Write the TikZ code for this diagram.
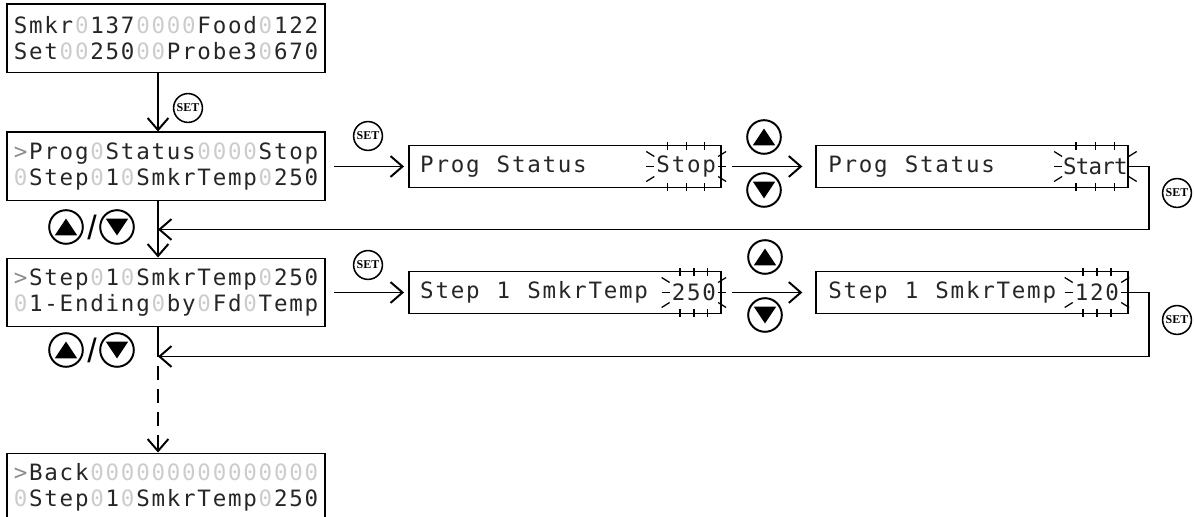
\documentclass[tikz,border=0pt]{standalone}
\usepackage{fontspec}
\usepackage{tikz}
\usetikzlibrary{arrows.meta, positioning, calc}

\newfontfamily\lcdfont{DejaVu Sans Mono}
\newfontfamily\btnfont{Liberation Serif}
\newfontfamily\slashfont{Liberation Sans}

\definecolor{lcdghost}{gray}{0.8}
\definecolor{lcdink}{gray}{0.15}

% one character cell of the display: . = unlit cell, * = blank
\newlength\lcdpitch
\setlength\lcdpitch{0.3825cm}
\makeatletter
\newcommand\lcdtext[1]{\lcd@scan#1\@nil}
\def\lcd@scan#1{\ifx#1\@nil\else\lcd@cell{#1}\expandafter\lcd@scan\fi}
\def\lcd@cell#1{\makebox[\lcdpitch]{\ifx.#1\textcolor{lcdghost}{0}\else\ifx*#1\else\ifx>#1\textcolor{black!45}{>}\else#1\fi\fi\fi}}
\makeatother

% flashing marks round the value being edited
\newcommand\blinkmarks[1]{%
  \foreach \f in {0.2,0.5,0.8}{%
    \draw[blink] ($(#1.north west)!\f!(#1.north east)+(0,3)$) -- ++(0,-8);
    \draw[blink] ($(#1.south west)!\f!(#1.south east)+(0,-3)$) -- ++(0,8);
  }
  \draw[blink] ($(#1.west)+(-9,15)$) -- ++(8,-5);
  \draw[blink] ($(#1.west)+(-9,0)$) -- ++(8,0);
  \draw[blink] ($(#1.west)+(-9,-15)$) -- ++(8,5);
  \draw[blink] ($(#1.east)+(9,15)$) -- ++(-8,-5);
  \draw[blink] ($(#1.east)+(9,0)$) -- ++(-8,0);
  \draw[blink] ($(#1.east)+(9,-15)$) -- ++(-8,5);
}

\begin{document}
\begin{tikzpicture}[
      x=0.025cm, y=0.025cm,
      lcd/.style={rectangle, draw, line width=1.4pt, minimum width=7.95cm, minimum height=1.7cm, align=center, inner sep=0pt, text=lcdink, font=\lcdfont\fontsize{16}{18.5}\selectfont},
      edit/.style={rectangle, draw, line width=1.4pt, minimum width=7.8cm, minimum height=1.05cm},
      edittext/.style={anchor=west, inner sep=0pt, text=lcdink, font=\lcdfont\fontsize{16}{18.5}\selectfont},
      editval/.style={anchor=east, inner sep=0pt, minimum height=1.05cm, text=lcdink, font=\lcdfont\fontsize{16}{18.5}\selectfont},
      setbtn/.style={circle, draw, line width=1.1pt, minimum size=0.72cm, inner sep=0pt, font=\btnfont\bfseries\fontsize{8.5}{9}\selectfont},
      updn/.style={circle, draw, line width=1.4pt, minimum size=0.84cm, inner sep=0pt},
      upbtn/.style={updn, path picture={\fill ($(path picture bounding box.center)+(0cm,0.21cm)$) -- ++(-0.28cm,-0.42cm) -- ++(0.56cm,0cm) -- cycle;}},
      downbtn/.style={updn, path picture={\fill ($(path picture bounding box.center)+(0cm,-0.21cm)$) -- ++(-0.28cm,0.42cm) -- ++(0.56cm,0cm) -- cycle;}},
      slashmark/.style={inner sep=0pt, font=\slashfont\fontsize{24}{24}\selectfont},
      arrow/.style={-{Straight Barb[length=0.3cm, width=0.52cm]}, line width=1.4pt},
      link/.style={line width=1.4pt},
      blink/.style={line width=0.9pt}
      ]

      \useasboundingbox (0,0) rectangle (1194,517);

      % Main menu screens
      \node[lcd] (home) at (166,478.5) {\lcdtext{Smkr.137....Food.122}\\\lcdtext{Set..250..Probe3.670}};
      \node[lcd, below=1.45cm of home] (prog) {\lcdtext{>Prog.Status....Stop}\\\lcdtext{.Step.1.SmkrTemp.250}};
      \node[lcd, below=1.4cm of prog] (step) {\lcdtext{>Step.1.SmkrTemp.250}\\\lcdtext{.1-Ending.by.Fd.Temp}};
      \node[lcd, below=3.125cm of step] (back) {\lcdtext{>Back...............}\\\lcdtext{.Step.1.SmkrTemp.250}};

      % Program status editing
      \node[edit, right=2.05cm of prog] (progset) {};
      \node[edittext] (progsetlbl) at ($(progset.west)+(11,0)$) {\lcdtext{Prog*Status}};
      \node[editval] (progsetval) at ($(progset.east)+(-5,0)$) {\lcdtext{Stop}};
      \node[edit, right=2.325cm of progset] (prognew) {};
      \node[edittext] (prognewlbl) at ($(prognew.west)+(12,0)$) {\lcdtext{Prog*Status}};
      \node[editval] (prognewval) at ($(prognew.east)+(-1.5,0)$) {\setlength\lcdpitch{0.32cm}\lcdtext{Start}};

      % Step temperature editing
      \node[edit, right=2.05cm of step] (stepset) {};
      \node[edittext] (stepsetlbl) at ($(stepset.west)+(11,0)$) {\lcdtext{Step*1*SmkrTemp}};
      \node[editval] (stepsetval) at ($(stepset.east)+(-5,0)$) {\lcdtext{250}};
      \node[edit, right=2.325cm of stepset] (stepnew) {};
      \node[edittext] (stepnewlbl) at ($(stepnew.west)+(12,0)$) {\lcdtext{Step*1*SmkrTemp}};
      \node[editval] (stepnewval) at ($(stepnew.east)+(-9,0)$) {\lcdtext{120}};

      % Keys
      \node[setbtn] (set1) at (188,409) {SET};
      \node[setbtn] (set2) at (368,381) {SET};
      \node[setbtn] (set3) at (1177,324) {SET};
      \node[setbtn] (set4) at (368,252) {SET};
      \node[setbtn] (set5) at (1177,197) {SET};
      \node[upbtn] (up1) at (764,380) {};
      \node[downbtn] (down1) at (764,327) {};
      \node[upbtn] (up2) at (765,260) {};
      \node[downbtn] (down2) at (765,202) {};
      \node[upbtn] (upa) at (66,290) {};
      \node[slashmark] (slasha) at (92,290) {/};
      \node[downbtn] (downa) at (117,290) {};
      \node[upbtn] (upb) at (66,167) {};
      \node[slashmark] (slashb) at (92,167) {/};
      \node[downbtn] (downb) at (117,167) {};

      % Arrows - menu column
      \coordinate (spine) at ($(home.south)+(-8,0)$);
      \coordinate (ret1) at ($(prog.south -| spine)!0.5!(step.north -| spine)$);
      \coordinate (ret2) at ($(step.south -| spine)+(0,-29)$);
      \coordinate (stub) at ($(step.south -| spine)+(0,-16)$);
      \draw[arrow] (home.south -| spine) -- (prog.north -| spine);
      \draw[arrow] (prog.south -| spine) -- (step.north -| spine);
      \draw[link] (step.south -| spine) -- (stub);
      \draw[arrow, dash pattern=on 0.35cm off 0.22cm] (stub) -- (back.north -| spine);

      % Arrows - editing rows
      \draw[arrow, shorten <=0.2cm, shorten >=0.1cm] (prog.east) -- (progset.west);
      \draw[arrow, shorten <=0.25cm, shorten >=0.32cm] (progset.east) -- (prognew.west);
      \draw[arrow] (prognew.east) -- ++(20,0) |- (ret1);
      \draw[arrow, shorten <=0.2cm, shorten >=0.1cm] (step.east) -- (stepset.west);
      \draw[arrow, shorten <=0.25cm, shorten >=0.32cm] (stepset.east) -- (stepnew.west);
      \draw[arrow] (stepnew.east) -- ++(20,0) |- (ret2);

      % Flashing values
      \blinkmarks{progsetval}
      \blinkmarks{prognewval}
      \blinkmarks{stepsetval}
      \blinkmarks{stepnewval}

   \end{tikzpicture}
\end{document}
